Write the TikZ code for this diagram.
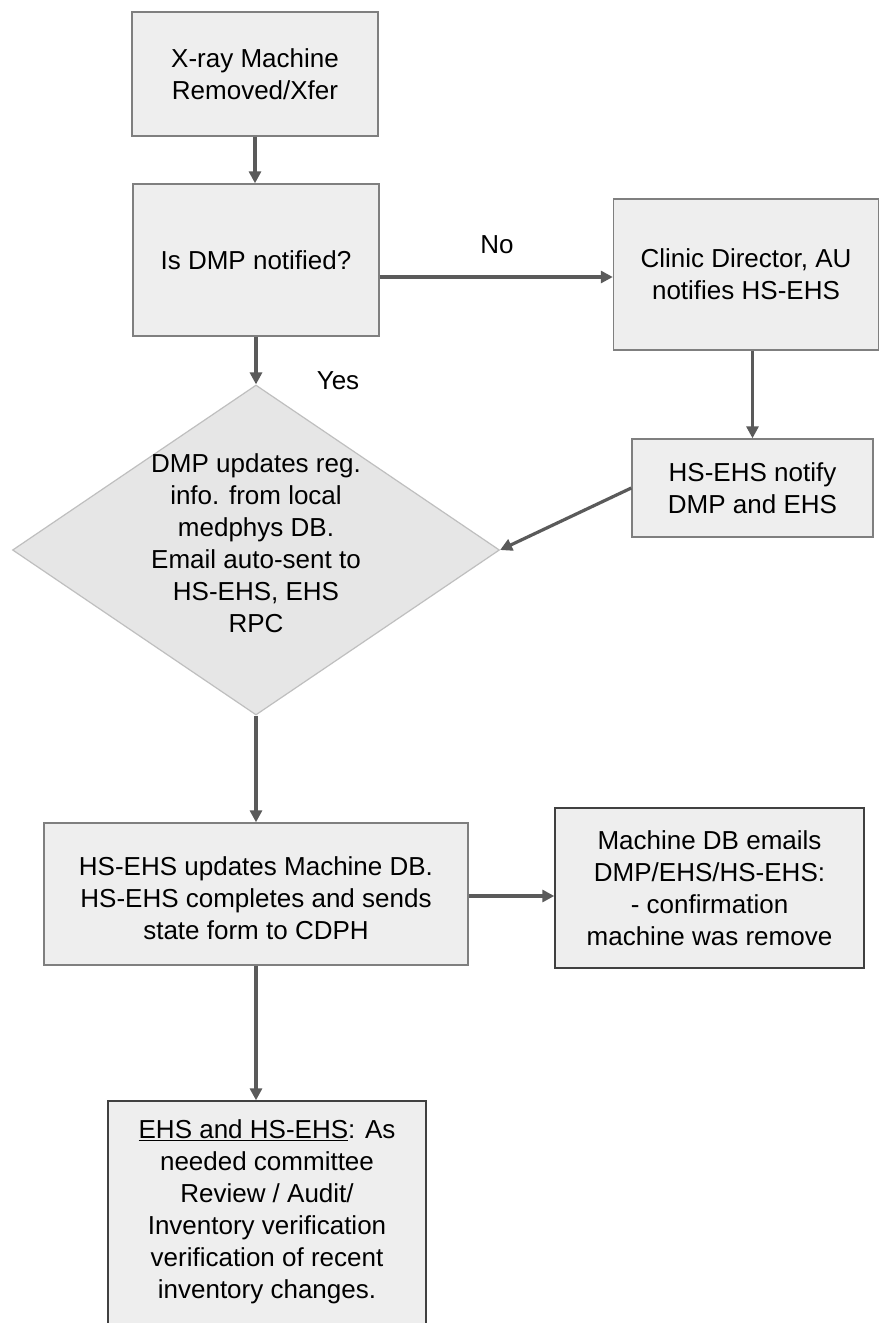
\documentclass[tikz,border=0pt]{standalone}
\usepackage{fontspec}
\setmainfont{Liberation Sans}
\usetikzlibrary{arrows.meta,shapes.geometric}
\definecolor{boxfill}{HTML}{EEEEEE}
\definecolor{boxline}{HTML}{7F7F7F}
\definecolor{darkline}{HTML}{404040}
\definecolor{arrowcol}{HTML}{5A5A5A}
\definecolor{diafill}{HTML}{E6E6E6}
\definecolor{dialine}{HTML}{BFBFBF}
\tikzset{
  txt/.style={font={\fontsize{26}{32}\selectfont}, align=center, text=black},
  box/.style={txt, draw=boxline, line width=1.4pt, fill=boxfill, rectangle, inner sep=0pt},
  darkbox/.style={box, draw=darkline},
  decision/.style={diamond, draw=dialine, line width=1.2pt, fill=diafill, inner sep=0pt},
  arr/.style={draw=arrowcol, line width=3.2pt, -{Triangle[length=12pt,width=12pt]}},
  lbl/.style={txt}
}
\begin{document}
\begin{tikzpicture}[x=1pt,y=-1pt]
\useasboundingbox (0,0) rectangle (879,1323);
\fill[white] (0,0) rectangle (879,1323);
\clip (0,0) rectangle (879,1323);

\node[box, minimum width=246pt, minimum height=124pt] (b1) at (255,74) {X-ray Machine\\Removed/Xfer};
\node[box, minimum width=246pt, minimum height=152pt] (b2) at (256,260) {Is DMP notified?};
\node[box, minimum width=265pt, minimum height=151pt] (b3) at (746,274.5) {Clinic Director, AU\\notifies HS-EHS};
\node[box, minimum width=241pt, minimum height=98pt] (b4) at (752.5,488) {HS-EHS notify\\DMP and EHS};
\node[decision, minimum width=487pt, minimum height=330pt] (dia) at (256,550) {};
\node[txt] (diatext) at (256,543) {DMP updates reg.\\info. from local\\medphys DB.\\Email auto-sent to\\HS-EHS, EHS\\RPC};
\node[box, minimum width=424pt, minimum height=142pt] (b5) at (256,894) {};
\node[txt] (b5text) at (256,898) {HS-EHS updates Machine DB.\\HS-EHS completes and sends\\state form to CDPH};
\node[darkbox, minimum width=309pt, minimum height=160pt] (b6) at (709.5,888) {Machine DB emails\\DMP/EHS/HS-EHS:\\- confirmation\\machine was remove};
\node[darkbox, minimum width=318pt, minimum height=230pt] (b7) at (267,1216) {};
\node[txt] (b7text) at (267,1212) {\underline{EHS and HS-EHS}: As\\needed committee\\Review / Audit/\\Inventory verification\\verification of recent\\inventory changes.};

\node[lbl] (no) at (497,245) {No};
\node[lbl] (yes) at (338,381) {Yes};

\draw[arr] (b1.south) -- (b1.south |- b2.north);
\draw[arr] ([yshift=-17pt]b2.east) -- ([yshift=-17pt]b2.east -| b3.west);
\draw[arr] (b2.south) -- (b2.south |- dia.north);
\draw[arr] (b4.north |- b3.south) -- (b4.north);
\draw[arr] (b4.west) -- (dia.east);
\draw[arr] (dia.south) -- (dia.south |- b5.north);
\draw[arr] ([yshift=-2pt]b5.east) -- ([yshift=-2pt]b5.east -| b6.west);
\draw[arr] (b5.south) -- (b5.south |- b7.north);
\end{tikzpicture}
\end{document}
